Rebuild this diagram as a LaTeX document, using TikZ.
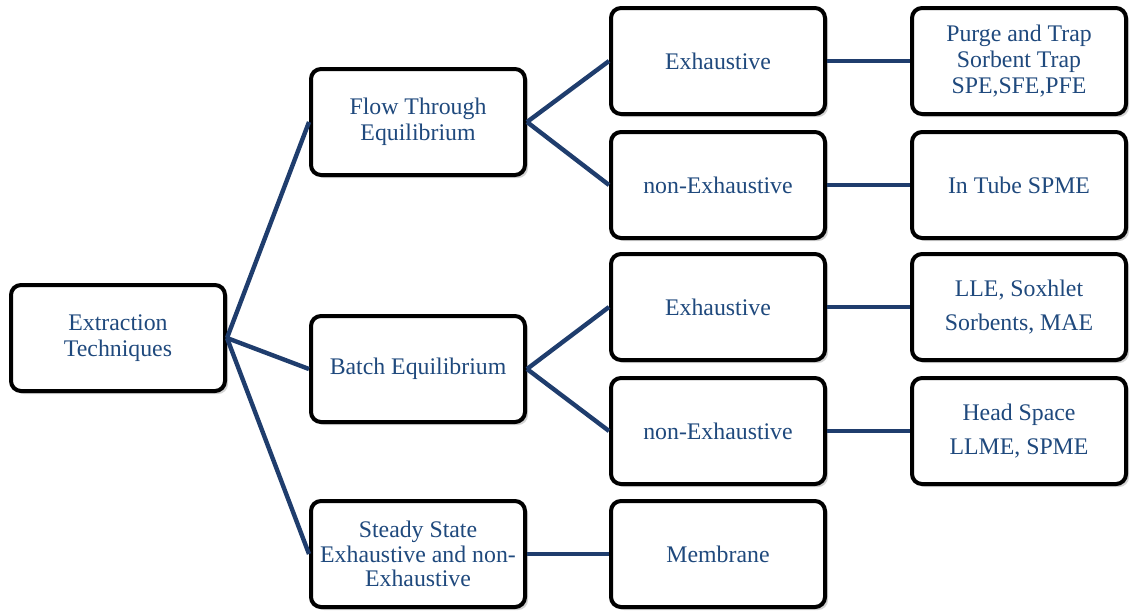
\documentclass[tikz,border=0pt]{standalone}
\usepackage{fontspec}
\setmainfont{Liberation Serif}
\usepackage{tikz}
\usetikzlibrary{shadows}
\definecolor{kastentext}{HTML}{1F497D}
\definecolor{astblau}{HTML}{1F3D6D}

\begin{document}
\begin{tikzpicture}[x=0.5pt, y=-0.5pt,
    kasten/.style={draw=black, line width=2pt, rounded corners=5pt, fill=white,
        minimum width=107pt, minimum height=53pt, align=center, text=kastentext,
        font=\fontsize{11.9}{13.2}\selectfont,
        drop shadow={opacity=0.35, shadow xshift=1.5pt, shadow yshift=-1.5pt}},
    ast/.style={draw=astblau, line width=2.2pt}]
    \useasboundingbox (0,0) rectangle (1133,612);

    % Wurzel.
    \node[kasten] (extraktion) at (118,338) {Extraction\\Techniques};

    % Zweite Spalte.
    \node[kasten] (fluss) at (418,122) {Flow Through\\Equilibrium};
    \node[kasten] (batch) at (418,369) {Batch Equilibrium};
    \node[kasten] (stetig) at (418,554) {Steady State\\[-1pt]Exhaustive and non-\\[-1pt]Exhaustive};

    % Dritte Spalte.
    \node[kasten] (flussex) at (718,61) {Exhaustive};
    \node[kasten] (flussnonex) at (718,185) {non-Exhaustive};
    \node[kasten] (batchex) at (718,307) {Exhaustive};
    \node[kasten] (batchnonex) at (718,431) {non-Exhaustive};
    \node[kasten] (membran) at (718,554) {Membrane};

    % Vierte Spalte.
    \node[kasten] (purge) at (1019,61) {Purge and Trap\\Sorbent Trap\\SPE,SFE,PFE};
    \node[kasten] (intube) at (1019,185) {In Tube SPME};
    \node[kasten] (lle) at (1019,307) {LLE, Soxhlet\\[4pt]Sorbents, MAE};
    \node[kasten] (head) at (1019,431) {Head Space\\[4pt]LLME, SPME};

    % Verbindungen.
    \draw[ast] (extraktion.east) -- (fluss.west);
    \draw[ast] (extraktion.east) -- (batch.west);
    \draw[ast] (extraktion.east) -- (stetig.west);
    \draw[ast] (fluss.east) -- (flussex.west);
    \draw[ast] (fluss.east) -- (flussnonex.west);
    \draw[ast] (batch.east) -- (batchex.west);
    \draw[ast] (batch.east) -- (batchnonex.west);
    \draw[ast] (stetig.east) -- (membran.west);
    \draw[ast] (flussex.east) -- (purge.west);
    \draw[ast] (flussnonex.east) -- (intube.west);
    \draw[ast] (batchex.east) -- (lle.west);
    \draw[ast] (batchnonex.east) -- (head.west);
\end{tikzpicture}
\end{document}
